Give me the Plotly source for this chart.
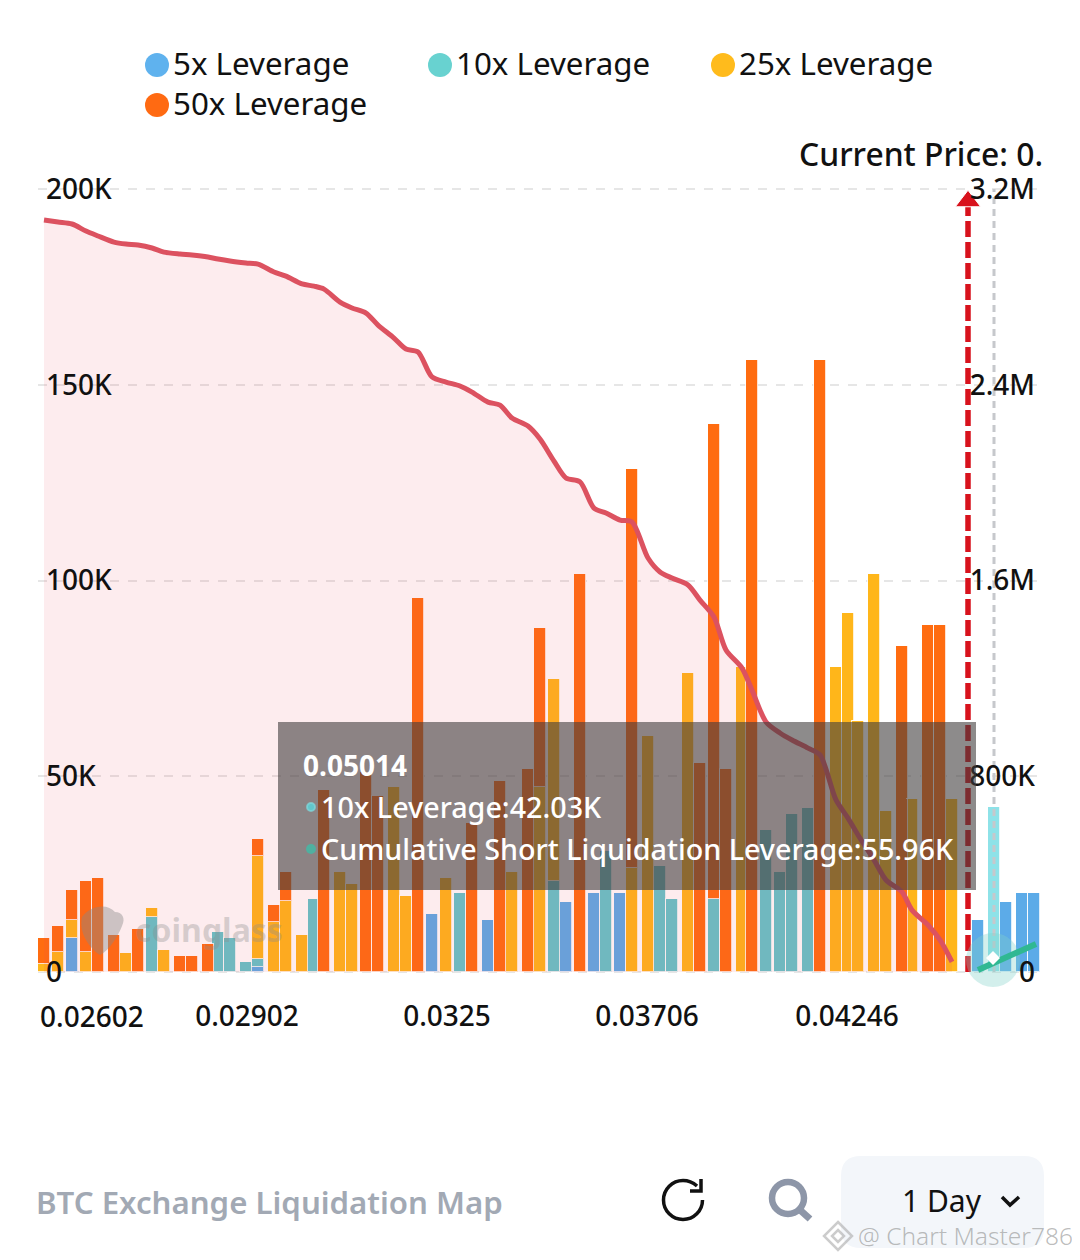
import plotly.graph_objects as go

# price ladder position of every bar, 2 plot px per step
levels = [0, 7, 14, 21, 27, 35, 41, 47, 54, 60, 68, 74, 82, 87, 93, 101, 107, 115, 121, 129,
          135, 140, 148, 154, 161, 167, 175, 181, 187, 194, 201, 208, 214, 222, 228, 234, 242, 248, 255, 261,
          268, 275, 281, 288, 294, 302, 308, 314, 322, 328, 335, 341, 349, 354, 361, 368, 374, 382, 388, 396,
          402, 407, 415, 421, 429, 434, 442, 448, 454, 467, 475, 481, 489, 495]

# liquidation volume in K, stacked
lev_5x = [0, 0, 8.7, 0, 0, 0, 0, 0, 0, 0, 0, 0, 0, 0, 0, 0, 1.2, 0, 0, 0,
          0, 0, 0, 0, 0, 0, 0, 0, 0, 14.8, 0, 0, 0, 13.3, 0, 0, 0, 0, 0, 17.9,
          0, 20.3, 0, 20.3, 0, 0, 0, 0, 0, 0, 0, 0, 0, 0, 0, 0, 0, 0, 0, 0,
          0, 0, 0, 0, 0, 0, 0, 0, 0, 13.3, 0, 17.9, 20.2, 20.2]
lev_10x = [0, 0, 0, 0, 0, 0, 0, 0, 14.1, 0, 0, 0, 0, 10.2, 8.7, 2.6, 2.2, 0, 0, 0,
           18.6, 0, 0, 0, 0, 0, 0, 0, 0, 0, 0, 20.3, 0, 0, 0, 0, 0, 0, 23.2, 0,
           0, 0, 31, 0, 0, 0, 27.1, 18.6, 0, 0, 18.6, 0, 0, 0, 36.3, 25.5, 40.3, 41.9, 0, 0,
           0, 0, 0, 0, 0, 0, 0, 0, 0, 0, 42.03, 0, 0, 0]
lev_25x = [2, 5, 4.7, 5, 0, 0, 4.8, 0, 2.3, 5.6, 0, 0, 0, 0, 0, 0, 26.2, 12.8, 18.1, 9.4,
           0, 0, 25.5, 22.5, 0, 0, 47.2, 19.5, 0, 0, 24.1, 0, 0, 0, 0, 25.5, 0, 47.3, 51.6, 0,
           0, 0, 0, 0, 26.5, 60.3, 0, 0, 76.4, 0, 0, 0, 77.9, 0, 0, 0, 0, 0, 0, 77.9,
           91.7, 64.1, 101.7, 41.1, 0, 44.2, 0, 0, 44.2, 0, 0, 0, 0, 0]
lev_50x = [6.8, 6.7, 7.5, 18.2, 24.1, 9.4, 0, 11.1, 0, 0, 4.1, 4.1, 7.1, 0, 0, 0, 4.4, 4.3, 7.4, 0,
           0, 46.5, 0, 0, 51, 45, 0, 0, 95.5, 0, 0, 0, 38, 0, 48.8, 0, 51.8, 40.6, 0, 0,
           101.7, 0, 0, 0, 102, 0, 0, 0, 0, 53.4, 121.4, 51.8, 0, 156.3, 0, 0, 0, 0, 156.3, 0,
           0, 0, 0, 0, 83.3, 0, 88.6, 88.6, 0, 0, 0, 0, 0, 0]

# cumulative short liquidation, K on the right axis
cumulative = [3073, 3065, 3057, 3028, 3008, 2983, 2975, 2971, 2959, 2942,
              2934, 2930, 2922, 2914, 2906, 2898, 2893, 2861, 2844, 2812,
              2803, 2791, 2738, 2714, 2693, 2644, 2591, 2546, 2534, 2432,
              2411, 2395, 2370, 2329, 2317, 2264, 2231, 2178, 2088, 2019,
              2003, 1896, 1876, 1847, 1839, 1692, 1635, 1610, 1582, 1520,
              1451, 1316, 1242, 1152, 1022, 977, 948, 915, 887, 703,
              629, 560, 458, 376, 327, 253, 192, 131, 41]

x_ticks = [101.5, 201.5, 301.5, 401.5]
x_labels = ['0.02902', '0.0325', '0.03706', '0.04246']
first_x_label = '0.02602'
left_ticks = [0, 50, 100, 150, 200]
left_labels = ['0', '50K', '100K', '150K', '200K']
right_ticks = [0, 800, 1600, 2400, 3200]
right_labels = ['0', '800K', '1.6M', '2.4M', '3.2M']
current_level = 462
hover_level = 475
series_names = ['5x Leverage', '10x Leverage', '25x Leverage', '50x Leverage']

BLUE, TEAL, YELLOW, ORANGE = '#5cabe8', '#62c6cb', '#ffb61a', '#ff6c10'
FONT = 'Noto Sans'
W, H = 1064, 1244
OX, OY = 8, 8


def px(x):
    return (x - OX) / W


def py(y):
    return 1 - (y - OY) / H


def path(*cmds):
    # cmds are letters and (x, y) pixel points
    out = []
    for c in cmds:
        if isinstance(c, str):
            out.append(c)
        else:
            out.append(f'{px(c[0]):.5f},{py(c[1]):.5f}')
    return ' '.join(out)


def rect(x0, y0, x1, y1, color):
    return dict(type='rect', xref='paper', yref='paper', x0=px(x0), x1=px(x1), y0=py(y0), y1=py(y1),
                fillcolor=color, line_width=0, layer='above')


def circle(cx, cy, r, color, line=None):
    return dict(type='circle', xref='paper', yref='paper', x0=px(cx - r), x1=px(cx + r), y0=py(cy + r), y1=py(cy - r),
                fillcolor=color, line=dict(color=line or color, width=2 if line else 0), layer='above')


def label(text, x, y, size, color='#111111', anchor='left', weight=400):
    return dict(text=text, x=px(x), y=py(y), xref='paper', yref='paper', showarrow=False, borderpad=0,
                xanchor=anchor, yanchor='middle', font=dict(family=FONT, size=size, color=color, weight=weight))


fig = go.Figure()

teal_colors = ['#8ee2e8' if l == hover_level else TEAL for l in levels]
for name, vals, color in zip(series_names, [lev_5x, lev_10x, lev_25x, lev_50x], [BLUE, teal_colors, YELLOW, ORANGE]):
    fig.add_trace(go.Bar(x=levels, y=vals, name=name, width=5.8,
                         marker=dict(color=color, line=dict(color='rgba(255,255,255,0.8)', width=1))))

# cumulative curve with the pink area under it
fig.add_trace(go.Scatter(x=levels[:len(cumulative)], y=cumulative, yaxis='y2', mode='lines',
                         name='Cumulative Short Liquidation Leverage',
                         line=dict(color='#dc5260', width=5, shape='spline', smoothing=0.8),
                         fill='tozeroy', fillcolor='rgba(235,70,85,0.10)'))

# hover crosshair and current price marker
fig.add_trace(go.Scatter(x=[hover_level, hover_level], y=[0, 3200], yaxis='y2', mode='lines',
                         line=dict(color='#c6c8cc', width=3, dash='7px,5px'), hoverinfo='skip'))
fig.add_trace(go.Scatter(x=[current_level, current_level], y=[0, 3150], yaxis='y2', mode='lines+markers',
                         line=dict(color='#d8121c', width=5.5, dash='16px,5px'),
                         marker=dict(symbol='triangle-up', size=[0, 22], color='#d8121c', opacity=1), hoverinfo='skip'))

shapes = []
annotations = []

# legend
legend_pos = [(157, 65), (440, 65), (723, 65), (157, 105)]
legend_colors = ['#5fb2ee', '#68d2d0', '#ffbb1c', '#ff6a12']
for name, (lx, ly), color in zip(series_names, legend_pos, legend_colors):
    shapes.append(circle(lx, ly, 12, color))
    annotations.append(label(name, lx + 15, ly - 2, 31.3))

annotations.append(label('Current Price: 0.', 1044, 153, 31.8, anchor='right', weight=500))

# the inside y labels hide a first x tick, so this one is placed by hand
annotations.append(label(first_x_label, 92, 1016, 28, anchor='center', weight=500))

# coinglass watermark
shapes.append(dict(type='path', xref='paper', yref='paper', layer='above', line_width=0,
                   fillcolor='rgba(135,135,135,0.42)',
                   path=path('M', (82, 917), 'C', (90, 905), (108, 903), (115, 912), 'C', (122, 912), (126, 918), (122, 926),
                             'C', (118, 936), (110, 950), (100, 955), 'C', (92, 950), (78, 935), (82, 917), 'Z')))
annotations.append(label('coinglass', 134, 929, 32, color='rgba(140,140,140,0.34)', weight=700))

# tooltip
shapes.append(rect(278, 722, 976, 890, 'rgba(65,62,62,0.6)'))
shapes.append(circle(311, 807, 4, '#62c6cb', line='rgba(130,215,220,0.7)'))
shapes.append(circle(311, 849, 5, '#4fb0a0'))
annotations.append(label('0.05014', 302, 765, 28, color='#ffffff', weight=700))
annotations.append(label('10x Leverage:42.03K', 320, 806, 28.7, color='#ffffff', weight=500))
annotations.append(label('Cumulative Short Liquidation Leverage:55.96K', 320, 848, 28.7, color='#ffffff', weight=500))

# binance badge on the axis
shapes.append(circle(993, 960, 27, 'rgba(130,210,200,0.35)'))
shapes.append(dict(type='line', xref='paper', yref='paper', layer='above', x0=px(978), y0=py(970), x1=px(1036), y1=py(944),
                   line=dict(color='#30b892', width=6)))
shapes.append(dict(type='path', xref='paper', yref='paper', layer='above', fillcolor='#ffffff', line_width=0,
                   path=path('M', (993, 951), 'L', (1000, 958), 'L', (993, 965), 'L', (986, 958), 'Z')))

# footer controls
annotations.append(label('BTC Exchange Liquidation Map', 35, 1202, 31.2, color='#a2a9b4', weight=600))
shapes.append(dict(type='path', xref='paper', yref='paper', layer='above', line=dict(color='#111111', width=3.5),
                   path=path('M', (697, 1186), 'C', (693, 1182.5), (688, 1180.5), (683, 1180.5),
                             'C', (672.2, 1180.5), (663.5, 1189.2), (663.5, 1200),
                             'C', (663.5, 1210.8), (672.2, 1219.5), (683, 1219.5),
                             'C', (693.8, 1219.5), (702.5, 1210.8), (702.5, 1200))))
shapes.append(dict(type='path', xref='paper', yref='paper', layer='above', line=dict(color='#111111', width=3.5),
                   path=path('M', (701, 1179), 'L', (701, 1191), 'L', (690, 1191))))
shapes.append(circle(788, 1198, 16, 'rgba(0,0,0,0)', line='#8d96a8'))
shapes[-1]['line']['width'] = 6.5
shapes.append(dict(type='line', xref='paper', yref='paper', layer='above', x0=px(800), y0=py(1210), x1=px(810), y1=py(1219),
                   line=dict(color='#8d96a8', width=7)))
shapes.append(dict(type='path', xref='paper', yref='paper', layer='above', fillcolor='#f3f6fa', line_width=0,
                   path=path('M', (861, 1156), 'L', (1024, 1156), 'Q', (1044, 1156), (1044, 1176), 'L', (1044, 1228),
                             'Q', (1044, 1248), (1024, 1248), 'L', (861, 1248), 'Q', (841, 1248), (841, 1228),
                             'L', (841, 1176), 'Q', (841, 1156), (861, 1156), 'Z')))
annotations.append(label('1 Day', 901, 1200, 30, color='#111111'))
shapes.append(dict(type='path', xref='paper', yref='paper', layer='above', line=dict(color='#111111', width=3.5),
                   path=path('M', (1002, 1197), 'L', (1010, 1205), 'L', (1019, 1197))))

# post watermark
for r in (14, 6):
    shapes.append(dict(type='path', xref='paper', yref='paper', layer='above', fillcolor='rgba(255,255,255,0)',
                       line=dict(color='rgba(170,170,170,0.6)', width=2.5),
                       path=path('M', (838, 1236 - r), 'L', (838 + r, 1236), 'L', (838, 1236 + r), 'L', (838 - r, 1236), 'Z')))
annotations.append(label('@ Chart Master786', 857, 1235, 24.5, color='rgba(150,150,150,0.65)', weight=300))

fig.update_layout(
    width=W, height=H,
    margin=dict(l=0, r=0, t=0, b=0),
    barmode='stack', bargap=0,
    plot_bgcolor='rgba(0,0,0,0)', paper_bgcolor='white',
    showlegend=False,
    font=dict(family=FONT, size=28, color='#111111'),
    shapes=shapes, annotations=annotations,
    xaxis=dict(domain=[px(38), px(1040)], range=[-3, 498], tickmode='array', tickvals=x_ticks, ticktext=x_labels,
               anchor='free', position=py(972),
               showgrid=False, zeroline=False, showline=False, ticks='outside', ticklen=19,
               tickcolor='rgba(0,0,0,0)', tickfont=dict(size=28, color='#111111', weight=500)),
    # y domains run past 0 and 200K so the end labels are kept, scale stays 3.915 px per K
    yaxis=dict(domain=[py(992), py(140)], range=[-5.11, 212.52], tickmode='array', tickvals=left_ticks, ticktext=left_labels,
               ticklabelposition='inside', ticklabelstandoff=5, showgrid=True, gridcolor='#e6e6e6', griddash='dash', gridwidth=1.5,
               zeroline=False, showline=False, tickfont=dict(size=28, color='#111111', weight=500)),
    yaxis2=dict(overlaying='y', side='right', range=[-81.76, 3400.32], tickmode='array', tickvals=right_ticks,
                ticktext=right_labels, ticklabelposition='inside', ticklabelstandoff=2, showgrid=False, zeroline=False, showline=False,
                tickfont=dict(size=28, color='#111111', weight=500)),
)

fig.write_html("out.html")
